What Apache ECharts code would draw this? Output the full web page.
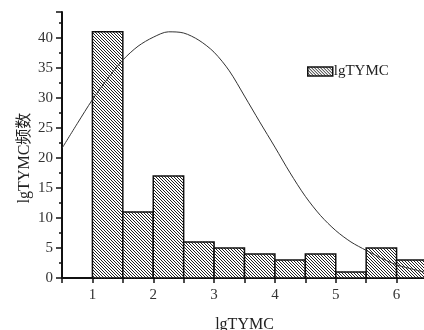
<!DOCTYPE html>
<html>
<head>
<meta charset="utf-8">
<script src="https://cdn.jsdelivr.net/npm/echarts@6/dist/echarts.min.js"></script>
<style>
  html, body { margin: 0; padding: 0; background: #fff; }
  #chart { width: 424px; height: 330px; }
</style>
</head>
<body>
<div id="chart"></div>
<script>
// histogram bins (left edge, right edge) and counts
const binStart = [1, 1.5, 2, 2.5, 3, 3.5, 4, 4.5, 5, 5.5, 6];
const binEnd = [1.5, 2, 2.5, 3, 3.5, 4, 4.5, 5, 5.5, 6, 6.5];
const counts = [41, 11, 17, 6, 5, 4, 3, 4, 1, 5, 3];

// fitted curve
const curveX = [0.5, 0.75, 1, 1.25, 1.5, 1.75, 2, 2.25, 2.5, 2.75, 3, 3.25, 3.5,
  3.75, 4, 4.25, 4.5, 4.75, 5, 5.25, 5.5, 5.75, 6, 6.25, 6.5];
const curveY = [21.6, 25.7, 29.7, 33.2, 36.3, 38.6, 40.1, 41.0, 40.8, 39.6, 37.6, 34.5, 30.3,
  26.0, 21.8, 17.5, 13.6, 10.4, 7.9, 6.0, 4.6, 3.3, 2.2, 1.5, 0.9];

const yTicks = [0, 5, 10, 15, 20, 25, 30, 35, 40];
const xTicks = [1, 2, 3, 4, 5, 6];

const FONT = '"Liberation Serif", "Noto Sans CJK SC", serif';

function makeHatch() {
  const c = document.createElement('canvas');
  c.width = 3;
  c.height = 3;
  const ctx = c.getContext('2d');
  ctx.fillStyle = '#fff';
  ctx.fillRect(0, 0, 3, 3);
  ctx.fillStyle = '#222';
  for (let i = 0; i < 3; i++) ctx.fillRect(i, i, 1, 1);
  return c;
}
const hatch = { image: makeHatch(), repeat: 'repeat' };

const chart = echarts.init(document.getElementById('chart'), null, { renderer: 'canvas' });

chart.setOption({
  animation: false,
  backgroundColor: '#fff',
  grid: { left: 62, right: -3, top: 12, bottom: 52, outerBoundsMode: 'none', containLabel: false },
  legend: {
    left: 307,
    top: 64,
    padding: 0,
    icon: 'rect',
    itemWidth: 25,
    itemHeight: 9,
    itemGap: 4,
    textStyle: { fontFamily: FONT, fontSize: 15, color: '#222', padding: [0, 0, 0, -4] },
    data: [{
      name: 'lgTYMC',
      itemStyle: { color: hatch, borderColor: '#111', borderWidth: 1.5 }
    }]
  },
  xAxis: {
    type: 'value',
    min: 0.5,
    max: 6.5,
    interval: 0.5,
    name: 'lgTYMC',
    nameLocation: 'middle',
    nameGap: 39,
    nameTextStyle: { fontFamily: FONT, fontSize: 16, color: '#222' },
    axisLine: { show: true, onZero: false, lineStyle: { color: '#111', width: 2 } },
    axisTick: { show: true, inside: false, length: 5, lineStyle: { color: '#111', width: 1.5 } },
    axisLabel: {
      fontFamily: FONT, fontSize: 15, color: '#333', margin: 10,
      formatter: v => (xTicks.indexOf(v) >= 0 ? String(v) : '')
    },
    splitLine: { show: false }
  },
  yAxis: {
    type: 'value',
    min: 0,
    max: 44.3,
    interval: 5,
    axisLine: { show: true, lineStyle: { color: '#111', width: 2 } },
    axisTick: { show: true, length: 6, lineStyle: { color: '#111', width: 1.5 } },
    minorTick: { show: true, splitNumber: 2, length: 3, lineStyle: { color: '#111', width: 1.5 } },
    axisLabel: {
      fontFamily: FONT, fontSize: 15, color: '#333', margin: 9,
      formatter: v => (yTicks.indexOf(v) >= 0 ? String(v) : '')
    },
    splitLine: { show: false }
  },
  graphic: [{
    type: 'text',
    x: 25,
    y: 158,
    rotation: Math.PI / 2,
    style: {
      text: 'lgTYMC频数',
      fontFamily: FONT,
      fontSize: 16,
      fill: '#222',
      align: 'center',
      verticalAlign: 'middle'
    }
  }],
  series: [
    {
      name: 'lgTYMC',
      type: 'custom',
      data: counts.map((c, i) => [binStart[i], binEnd[i], c]),
      encode: { x: [0, 1], y: 2 },
      renderItem: (params, api) => {
        const p0 = api.coord([api.value(0), api.value(2)]);
        const p1 = api.coord([api.value(1), 0]);
        return {
          type: 'rect',
          shape: { x: p0[0], y: p0[1], width: p1[0] - p0[0], height: p1[1] - p0[1] },
          style: { fill: hatch, stroke: '#111', lineWidth: 1.5 }
        };
      },
      itemStyle: { color: hatch, borderColor: '#111', borderWidth: 1.5 },
      z: 2
    },
    {
      name: 'curve',
      type: 'line',
      data: curveX.map((x, i) => [x, curveY[i]]),
      smooth: 0.3,
      showSymbol: false,
      lineStyle: { color: '#333', width: 1 },
      z: 3
    }
  ]
});
</script>
</body>
</html>
